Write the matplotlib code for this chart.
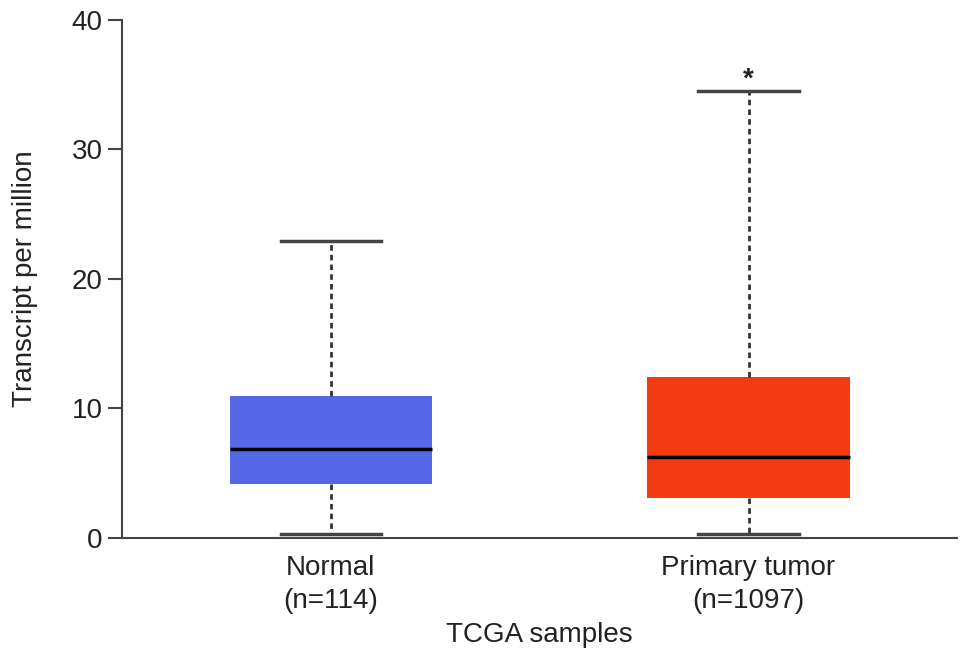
import matplotlib
matplotlib.use('Agg')
import matplotlib.pyplot as plt

plt.rcParams['font.family'] = ['Liberation Sans', 'DejaVu Sans']
plt.rcParams['text.color'] = '#222222'
plt.rcParams['axes.labelcolor'] = '#222222'
plt.rcParams['xtick.labelcolor'] = '#222222'
plt.rcParams['ytick.labelcolor'] = '#222222'

# box statistics (transcripts per million)
groups = ['Normal\n(n=114)', 'Primary tumor\n(n=1097)']
q1 = [4.15, 3.05]
med = [6.87, 6.25]
q3 = [10.95, 12.4]
whislo = [0.3, 0.3]
whishi = [22.9, 34.5]
colors = ['#5468E8', '#F43A12']

stats = []
for i in range(len(groups)):
    stats.append({'label': groups[i], 'q1': q1[i], 'med': med[i], 'q3': q3[i],
                  'whislo': whislo[i], 'whishi': whishi[i], 'fliers': []})

fig = plt.figure(figsize=(9.69, 6.64), dpi=100)
ax = fig.add_axes([0.126, 0.19, 0.862, 0.78])

bp = ax.bxp(stats, positions=[1, 2], widths=0.485, patch_artist=True,
            showfliers=False,
            medianprops=dict(color='black', linewidth=2.5),
            whiskerprops=dict(color='#333333', linewidth=2, linestyle=(0, (2, 1.5))),
            capprops=dict(color='#444444', linewidth=2.5),
            capwidths=0.24)
for patch, c in zip(bp['boxes'], colors):
    patch.set_facecolor(c)
    patch.set_edgecolor(c)
    patch.set_linewidth(0)

# significance mark above the tumor group
ax.text(2, whishi[1] - 0.15, '*', ha='center', va='bottom', fontsize=20,
        fontweight='bold', color='#222222')

ax.set_xlim(0.5, 2.5)
ax.set_ylim(0, 40)
ax.set_yticks([0, 10, 20, 30, 40])
ax.tick_params(axis='y', labelsize=20, length=10, width=1.5, color='#444444', pad=4)
ax.tick_params(axis='x', labelsize=20, length=0, pad=12)
for lbl in ax.get_xticklabels():
    lbl.set_linespacing(1.35)
ax.spines['top'].set_visible(False)
ax.spines['right'].set_visible(False)
for s in ['left', 'bottom']:
    ax.spines[s].set_linewidth(1.5)
    ax.spines[s].set_color('#444444')

ax.set_xlabel('TCGA samples', fontsize=20, labelpad=6)
ax.set_ylabel('Transcript per million', fontsize=20, labelpad=24)

fig.savefig('out.png', dpi=100)
